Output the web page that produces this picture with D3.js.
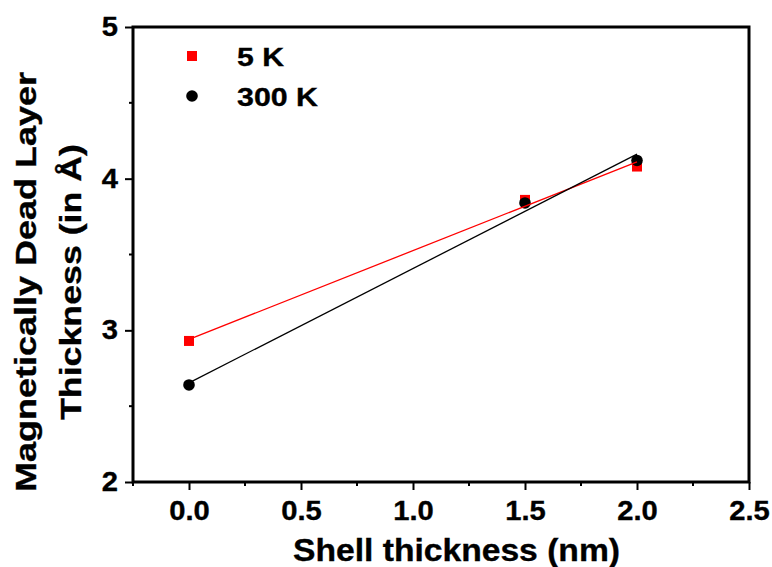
<!DOCTYPE html>
<html>
<head>
<meta charset="utf-8">
<script src="https://cdn.jsdelivr.net/npm/d3@7/dist/d3.min.js"></script>
<style>
  html, body { margin: 0; padding: 0; background: #fff; }
  svg { display: block; }
  text { font-family: "Liberation Sans", Arial, sans-serif; font-weight: bold; fill: #000; stroke: #000; stroke-width: 0.35px; }
</style>
</head>
<body>
<svg id="chart" width="772" height="567"></svg>
<script>
// Shell thickness (nm) for each sample
const shellThickness = [0.0, 1.5, 2.0];
// Dead layer thickness (Å) measured at each temperature
const dead5K = [2.93, 3.86, 4.08];
const dead300K = [2.64, 3.84, 4.12];
const seriesNames = ["5 K", "300 K"];
const xTicks = [0.0, 0.5, 1.0, 1.5, 2.0, 2.5];
const yTicks = [2, 3, 4, 5];

const svg = d3.select("#chart");
const plotLeft = 133, plotRight = 749, plotTop = 27, plotBottom = 482;

const x = d3.scaleLinear().domain([-0.25, 2.5]).range([plotLeft, plotRight]);
const y = d3.scaleLinear().domain([2, 5]).range([plotBottom, plotTop]);

// widen glyphs a little along the reading direction
function stretch(sel, k) {
  sel.each(function () {
    const len = this.getComputedTextLength();
    d3.select(this).attr("textLength", len * k).attr("lengthAdjust", "spacingAndGlyphs");
  });
}

// least-squares line through a series
function fit(xs, ys) {
  const mx = d3.mean(xs), my = d3.mean(ys);
  let sxy = 0, sxx = 0;
  xs.forEach((v, i) => { sxy += (v - mx) * (ys[i] - my); sxx += (v - mx) * (v - mx); });
  const b = sxy / sxx;
  return { a: my - b * mx, b };
}

// minor ticks
const xMinor = d3.range(-0.25, 2.5001, 0.25).filter(v => Math.abs(v * 2 - Math.round(v * 2)) > 1e-6);
const yMinor = [2.5, 3.5, 4.5];

const axisG = svg.append("g");

// bottom axis
const xAxis = d3.axisBottom(x).tickValues(xTicks).tickFormat(d3.format(".1f")).tickSize(8).tickSizeOuter(0).tickPadding(10);
const gx = axisG.append("g").attr("transform", `translate(0,${plotBottom})`).call(xAxis);
gx.select(".domain").remove();
gx.selectAll(".tick line").attr("stroke", "#000").attr("stroke-width", 2);
gx.selectAll(".tick text").style("font-size", "27px").attr("dy", "0.74em").call(stretch, 1.08);
axisG.append("g").selectAll("line").data(xMinor).join("line")
  .attr("x1", d => x(d)).attr("x2", d => x(d))
  .attr("y1", plotBottom).attr("y2", plotBottom + 4)
  .attr("stroke", "#000").attr("stroke-width", 2);

// left axis
const yAxis = d3.axisLeft(y).tickValues(yTicks).tickFormat(d3.format("d")).tickSize(8).tickSizeOuter(0).tickPadding(7);
const gy = axisG.append("g").attr("transform", `translate(${plotLeft},0)`).call(yAxis);
gy.select(".domain").remove();
gy.selectAll(".tick line").attr("stroke", "#000").attr("stroke-width", 2);
gy.selectAll(".tick text").style("font-size", "27px").call(stretch, 1.08);
axisG.append("g").selectAll("line").data(yMinor).join("line")
  .attr("x1", plotLeft - 4).attr("x2", plotLeft)
  .attr("y1", d => y(d)).attr("y2", d => y(d))
  .attr("stroke", "#000").attr("stroke-width", 2);

// frame
svg.append("rect")
  .attr("x", plotLeft).attr("y", plotTop)
  .attr("width", plotRight - plotLeft).attr("height", plotBottom - plotTop)
  .attr("fill", "none").attr("stroke", "#000").attr("stroke-width", 3);

const series = [
  { name: seriesNames[0], values: dead5K, color: "#ff0000", shape: "square" },
  { name: seriesNames[1], values: dead300K, color: "#000000", shape: "circle" }
];

// markers
series.forEach(s => {
  const pts = shellThickness.map((t, i) => ({ t, v: s.values[i] }));
  const g = svg.append("g");
  if (s.shape === "square") {
    g.selectAll("rect").data(pts).join("rect")
      .attr("x", d => x(d.t) - 5).attr("y", d => y(d.v) - 5)
      .attr("width", 10).attr("height", 10).attr("fill", s.color);
  } else {
    g.selectAll("circle").data(pts).join("circle")
      .attr("cx", d => x(d.t)).attr("cy", d => y(d.v)).attr("r", 5.8).attr("fill", s.color);
  }
});

// linear fit lines
series.forEach(s => {
  const f = fit(shellThickness, s.values);
  const ends = [d3.min(shellThickness), d3.max(shellThickness)];
  svg.append("line")
    .attr("x1", x(ends[0])).attr("y1", y(f.a + f.b * ends[0]))
    .attr("x2", x(ends[1])).attr("y2", y(f.a + f.b * ends[1]))
    .attr("stroke", s.color).attr("stroke-width", 1.3);
});

// legend
const legend = svg.append("g");
legend.append("rect").attr("x", 187).attr("y", 51).attr("width", 10).attr("height", 10).attr("fill", "#ff0000");
legend.append("circle").attr("cx", 192).attr("cy", 96).attr("r", 5.8).attr("fill", "#000");
legend.append("text").attr("x", 237).attr("y", 66).style("font-size", "26px").text(seriesNames[0])
  .attr("textLength", 47).attr("lengthAdjust", "spacingAndGlyphs");
legend.append("text").attr("x", 237).attr("y", 106).style("font-size", "26px").text(seriesNames[1])
  .attr("textLength", 81).attr("lengthAdjust", "spacingAndGlyphs");

// axis titles
svg.append("text")
  .attr("x", 293).attr("y", 561)
  .style("font-size", "31px")
  .attr("textLength", 327).attr("lengthAdjust", "spacingAndGlyphs")
  .text("Shell thickness (nm)");

const yTitle = svg.append("text")
  .attr("transform", "translate(0,282) rotate(-90)")
  .attr("text-anchor", "middle")
  .style("font-size", "30px");
yTitle.append("tspan").attr("x", 0).attr("y", 36)
  .attr("textLength", 420).attr("lengthAdjust", "spacingAndGlyphs")
  .text("Magnetically Dead Layer");
yTitle.append("tspan").attr("x", 0).attr("y", 81)
  .attr("textLength", 276).attr("lengthAdjust", "spacingAndGlyphs")
  .text("Thickness (in Å)");
</script>
</body>
</html>
